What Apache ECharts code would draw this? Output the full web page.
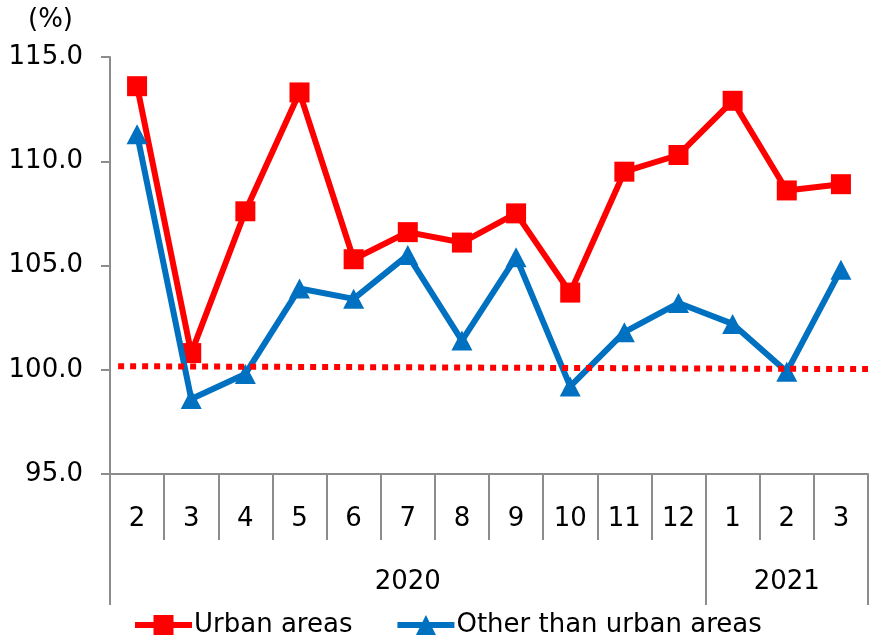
<!DOCTYPE html>
<html>
<head>
<meta charset="utf-8">
<script src="https://cdn.jsdelivr.net/npm/echarts@6/dist/echarts.min.js"></script>
<style>
  html, body { margin: 0; padding: 0; background: #fff; }
  #chart { width: 875px; height: 637px; }
</style>
</head>
<body>
<div id="chart"></div>
<script>
// Monthly index, Feb 2020 – Mar 2021
const months = ['2', '3', '4', '5', '6', '7', '8', '9', '10', '11', '12', '1', '2', '3'];
const years = ['2020', '2021'];
const yearSpans = [11, 3];            // number of months under each year
const urban = [113.6, 100.8, 107.6, 113.3, 105.3, 106.6, 106.1, 107.5, 103.7, 109.5, 110.3, 112.9, 108.6, 108.9];
const otherAreas = [111.3, 98.6, 99.8, 103.9, 103.4, 105.5, 101.4, 105.4, 99.2, 101.8, 103.2, 102.2, 99.9, 104.8];
// Reference level drawn as a dotted line across the plot (start / end)
const refLine = [[0.15, 100.17], [14, 100.03]];
const yTicks = { min: 95, max: 115, interval: 5 };

// Year group boundaries and label centres on a 0..N scale
const yearEdges = [0];
yearSpans.forEach(s => yearEdges.push(yearEdges[yearEdges.length - 1] + s));
const yearCenters = yearSpans.map((s, i) => yearEdges[i] + s / 2);

const FONT = 'DejaVu Sans';
const FS = 26;
const AXIS_GRAY = '#8c8c8c';

const chart = echarts.init(document.getElementById('chart'), null, { renderer: 'canvas' });
chart.setOption({
  animation: false,
  backgroundColor: '#fff',
  textStyle: { fontFamily: FONT },
  title: {
    text: '(%)', left: 23, top: 2,
    textStyle: { fontFamily: FONT, fontSize: FS, fontWeight: 'normal', color: '#000' }
  },
  grid: { left: 110, right: 7, top: 57, bottom: 163, containLabel: false },
  legend: {
    data: ['Urban areas', 'Other than urban areas'],
    left: 127, top: 607,
    itemWidth: 57, itemHeight: 25, itemGap: 42,
    lineStyle: { width: 6 },
    textStyle: { fontFamily: FONT, fontSize: FS, color: '#000', padding: [0, 0, 0, -3] }
  },
  xAxis: [
    {
      type: 'category',
      data: months,
      boundaryGap: true,
      position: 'bottom',
      axisLine: { show: true, lineStyle: { color: AXIS_GRAY, width: 2 } },
      axisTick: { show: true, interval: 0, length: 66, lineStyle: { color: AXIS_GRAY, width: 2 } },
      axisLabel: { interval: 0, margin: 32, fontSize: FS, color: '#000', fontFamily: FONT },
      splitLine: { show: false }
    },
    {
      type: 'value',
      min: 0, max: months.length,
      position: 'bottom',
      axisLine: { show: false },
      axisTick: { show: true, customValues: yearEdges, length: 131, lineStyle: { color: AXIS_GRAY, width: 2 } },
      axisLabel: {
        customValues: yearCenters, margin: 95, fontSize: FS, color: '#000', fontFamily: FONT,
        formatter: v => years[yearCenters.indexOf(v)]
      },
      splitLine: { show: false }
    }
  ],
  yAxis: {
    type: 'value',
    min: yTicks.min, max: yTicks.max, interval: yTicks.interval,
    axisLine: { show: true, lineStyle: { color: AXIS_GRAY, width: 2 } },
    axisTick: { show: true, length: 9, lineStyle: { color: AXIS_GRAY, width: 2 } },
    axisLabel: { margin: 27, fontSize: FS, color: '#000', fontFamily: FONT, formatter: v => v.toFixed(1) },
    splitLine: { show: false }
  },
  series: [
    {
      name: 'Urban areas',
      type: 'line',
      xAxisIndex: 0,
      data: urban,
      symbol: 'rect', symbolSize: 20,
      lineStyle: { color: '#ff0000', width: 6 },
      itemStyle: { color: '#ff0000' },
      z: 3
    },
    {
      name: 'Other than urban areas',
      type: 'line',
      xAxisIndex: 0,
      data: otherAreas,
      symbol: 'triangle', symbolSize: [21, 20],
      lineStyle: { color: '#0070c0', width: 6 },
      itemStyle: { color: '#0070c0' },
      z: 4
    },
    {
      name: 'ref',
      type: 'line',
      xAxisIndex: 1,
      data: refLine,
      symbol: 'none',
      silent: true,
      lineStyle: { color: '#ff0000', width: 6, type: [6, 6], cap: 'butt' },
      z: 5
    }
  ]
});
</script>
</body>
</html>
